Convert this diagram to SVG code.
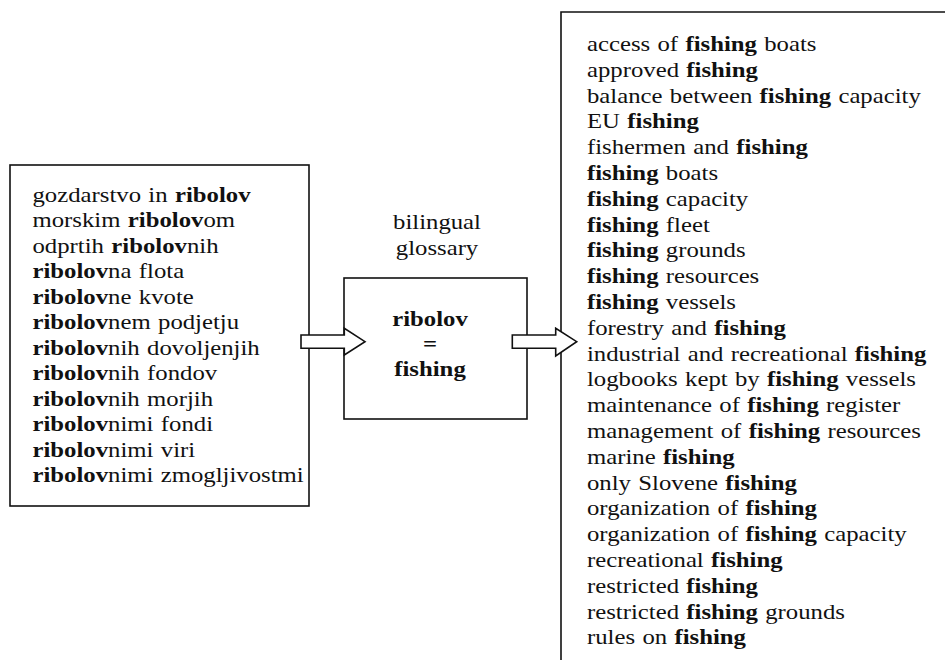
<svg xmlns="http://www.w3.org/2000/svg" width="945" height="660" viewBox="0 0 945 660">
<style>
  text { font-family: 'Liberation Serif', 'DejaVu Serif', serif; font-size: 22px; fill: #111; word-spacing: 1px; }
  .b { font-weight: bold; }
  .box { fill: #fff; stroke: #111; stroke-width: 1.6; }
  .arrow { fill: #fff; stroke: #111; stroke-width: 1.6; stroke-linejoin: miter; }
</style>
<rect width="945" height="660" fill="#fff"/>

<g id="sources" font-family="Liberation Serif, DejaVu Serif, serif">
  <rect class="box" x="10" y="165" width="299" height="341"/>
  <g transform="translate(32.5,0) scale(1.125,1)">
    <text x="0" y="202">gozdarstvo in <tspan class="b">ribolov</tspan></text>
    <text x="0" y="227.5">morskim <tspan class="b">ribolov</tspan>om</text>
    <text x="0" y="253">odprtih <tspan class="b">ribolov</tspan>nih</text>
    <text x="0" y="278.5"><tspan class="b">ribolov</tspan>na flota</text>
    <text x="0" y="304"><tspan class="b">ribolov</tspan>ne kvote</text>
    <text x="0" y="329.5"><tspan class="b">ribolov</tspan>nem podjetju</text>
    <text x="0" y="355"><tspan class="b">ribolov</tspan>nih dovoljenjih</text>
    <text x="0" y="380.5"><tspan class="b">ribolov</tspan>nih fondov</text>
    <text x="0" y="406"><tspan class="b">ribolov</tspan>nih morjih</text>
    <text x="0" y="431.5"><tspan class="b">ribolov</tspan>nimi fondi</text>
    <text x="0" y="457"><tspan class="b">ribolov</tspan>nimi viri</text>
    <text x="0" y="482.5"><tspan class="b">ribolov</tspan>nimi zmogljivostmi</text>
  </g>
</g>

<g id="glossary-label" transform="translate(437,0) scale(1.125,1)">
  <text x="0" y="229" text-anchor="middle">bilingual</text>
  <text x="0" y="255" text-anchor="middle">glossary</text>
</g>

<g id="glossary">
  <rect class="box" x="344" y="278" width="183" height="141"/>
  <g transform="translate(430,0) scale(1.125,1)">
    <text class="b" x="0" y="326" text-anchor="middle">ribolov</text>
    <text class="b" x="0" y="351" text-anchor="middle">=</text>
    <text class="b" x="0" y="376" text-anchor="middle">fishing</text>
  </g>
</g>

<g id="targets">
  <path d="M561,660 V12 H945" fill="#fff" stroke="#111" stroke-width="1.6"/>
  <g transform="translate(587,0) scale(1.125,1)">
    <text x="0" y="51">access of <tspan class="b">fishing</tspan> boats</text>
    <text x="0" y="76.8">approved <tspan class="b">fishing</tspan></text>
    <text x="0" y="102.6">balance between <tspan class="b">fishing</tspan> capacity</text>
    <text x="0" y="128.4">EU <tspan class="b">fishing</tspan></text>
    <text x="0" y="154.2">fishermen and <tspan class="b">fishing</tspan></text>
    <text x="0" y="180"><tspan class="b">fishing</tspan> boats</text>
    <text x="0" y="205.8"><tspan class="b">fishing</tspan> capacity</text>
    <text x="0" y="231.6"><tspan class="b">fishing</tspan> fleet</text>
    <text x="0" y="257.4"><tspan class="b">fishing</tspan> grounds</text>
    <text x="0" y="283.2"><tspan class="b">fishing</tspan> resources</text>
    <text x="0" y="309"><tspan class="b">fishing</tspan> vessels</text>
    <text x="0" y="334.8">forestry and <tspan class="b">fishing</tspan></text>
    <text x="0" y="360.6">industrial and recreational <tspan class="b">fishing</tspan></text>
    <text x="0" y="386.4">logbooks kept by <tspan class="b">fishing</tspan> vessels</text>
    <text x="0" y="412.2">maintenance of <tspan class="b">fishing</tspan> register</text>
    <text x="0" y="438">management of <tspan class="b">fishing</tspan> resources</text>
    <text x="0" y="463.8">marine <tspan class="b">fishing</tspan></text>
    <text x="0" y="489.6">only Slovene <tspan class="b">fishing</tspan></text>
    <text x="0" y="515.4">organization of <tspan class="b">fishing</tspan></text>
    <text x="0" y="541.2">organization of <tspan class="b">fishing</tspan> capacity</text>
    <text x="0" y="567">recreational <tspan class="b">fishing</tspan></text>
    <text x="0" y="592.8">restricted <tspan class="b">fishing</tspan></text>
    <text x="0" y="618.6">restricted <tspan class="b">fishing</tspan> grounds</text>
    <text x="0" y="644.4">rules on <tspan class="b">fishing</tspan></text>
  </g>
</g>

<g id="connectors">
  <path class="arrow" d="M301,335 H344.3 V328.3 L365,341.7 L344.3,355 V348.3 H301 Z"/>
  <path class="arrow" d="M512.3,335 H555.7 V328.3 L576.7,341.7 L555.7,356 V348.3 H512.3 Z"/>
</g>
</svg>
